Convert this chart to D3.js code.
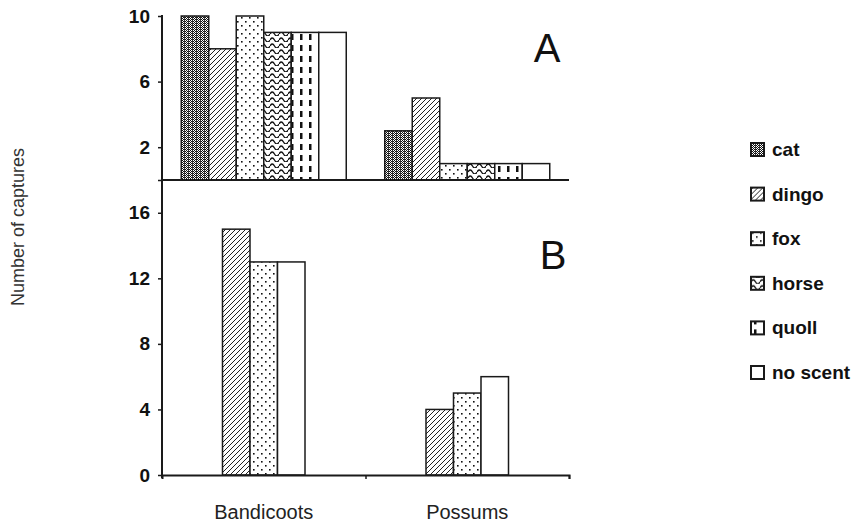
<!DOCTYPE html>
<html>
<head>
<meta charset="utf-8">
<script src="https://cdn.jsdelivr.net/npm/d3@7/dist/d3.min.js"></script>
<style>
  html, body { margin: 0; padding: 0; background: #fff; }
  svg { display: block; }
  text { font-family: "Liberation Sans", Arial, sans-serif; }
</style>
</head>
<body>
<svg id="chart" width="867" height="528"></svg>
<script>
// Captures of bandicoots and possums by scent treatment
const categories = ["Bandicoots", "Possums"];
const series = ["cat", "dingo", "fox", "horse", "quoll", "no scent"];

// Panel A
const valuesA = {
  "cat":      [10, 3],
  "dingo":    [8, 5],
  "fox":      [10, 1],
  "horse":    [9, 1],
  "quoll":    [9, 1],
  "no scent": [9, 1]
};
// Panel B (only dingo, fox and no scent were tested)
const seriesB = ["dingo", "fox", "no scent"];
const valuesB = {
  "dingo":    [15, 4],
  "fox":      [13, 5],
  "no scent": [13, 6]
};

const ticksA = [2, 6, 10];
const ticksB = [0, 4, 8, 12, 16];
const panelLabels = ["A", "B"];
const yTitle = "Number of captures";

const svg = d3.select("#chart");
const defs = svg.append("defs");

// ---- fill patterns ----
function pat(id, w, h) {
  const p = defs.append("pattern").attr("id", id)
    .attr("patternUnits", "userSpaceOnUse").attr("width", w).attr("height", h);
  p.append("rect").attr("width", w).attr("height", h).attr("fill", "#fff");
  return p;
}
// cat: fine checker with dark columns
{
  const p = pat("p-cat", 4, 2);
  p.append("rect").attr("x", 0).attr("y", 0).attr("width", 1).attr("height", 1).attr("fill", "#111");
  p.append("rect").attr("x", 1).attr("y", 1).attr("width", 1).attr("height", 1).attr("fill", "#111");
  p.append("rect").attr("x", 2).attr("y", 0).attr("width", 1).attr("height", 1).attr("fill", "#111");
  p.append("rect").attr("x", 3).attr("y", 1).attr("width", 1).attr("height", 1).attr("fill", "#111");
  p.append("rect").attr("x", 0).attr("y", 0).attr("width", 1).attr("height", 2).attr("fill", "#333");
}
// dingo: diagonal lines
{
  const p = pat("p-dingo", 5, 5);
  p.append("path").attr("d", "M-1,6 L6,-1 M-1,1 L1,-1 M4,6 L6,4")
    .attr("stroke", "#222").attr("stroke-width", 1);
}
// fox: staggered dots
{
  const p = pat("p-fox", 8, 8);
  p.append("rect").attr("x", 1).attr("y", 1).attr("width", 1.6).attr("height", 1.6).attr("fill", "#111");
  p.append("rect").attr("x", 5).attr("y", 5).attr("width", 1.6).attr("height", 1.6).attr("fill", "#111");
}
// horse: wavy lines
{
  const p = pat("p-horse", 9, 6);
  p.append("path").attr("d", "M0,4 Q2.25,0 4.5,4 T9,4")
    .attr("fill", "none").attr("stroke", "#111").attr("stroke-width", 1.3);
}
// quoll: columns of vertical dashes
{
  const p = pat("p-quoll", 9, 11);
  p.append("rect").attr("x", 3).attr("y", 1).attr("width", 2.5).attr("height", 6).attr("fill", "#111");
}
const fills = {
  "cat": "url(#p-cat)", "dingo": "url(#p-dingo)", "fox": "url(#p-fox)",
  "horse": "url(#p-horse)", "quoll": "url(#p-quoll)", "no scent": "#fff"
};

// ---- scales ----
const x = d3.scaleBand().domain(categories).range([162, 569]).padding(0);
const innerA = d3.scaleBand().domain(series).range([-82.5, 82.5]);
const innerB = d3.scaleBand().domain(seriesB).range([-41.25, 41.25]);
const yA = d3.scaleLinear().domain([0, 10]).range([180, 16]);
const yB = d3.scaleLinear().domain([0, 18]).range([475, 180]);

const ink = "#1a1a1a";

// ---- bars ----
function drawBars(keys, vals, inner, y) {
  keys.forEach(s => {
    svg.append("g").selectAll("rect")
      .data(vals[s].map((v, i) => ({ v, c: categories[i] })))
      .join("rect")
      .attr("x", d => x(d.c) + x.bandwidth() / 2 + inner(s))
      .attr("width", inner.bandwidth())
      .attr("y", d => y(d.v))
      .attr("height", d => y(0) - y(d.v))
      .attr("fill", fills[s])
      .attr("stroke", ink).attr("stroke-width", 1.5);
  });
}
drawBars(series, valuesA, innerA, yA);
drawBars(seriesB, valuesB, innerB, yB);

// ---- axes ----
const axisA = svg.append("g").attr("transform", "translate(162,0)")
  .call(d3.axisLeft(yA).tickValues([0, ...ticksA]).tickSize(4).tickPadding(8)
    .tickFormat(d => d === 0 ? "" : d));
const axisB = svg.append("g").attr("transform", "translate(162,0)")
  .call(d3.axisLeft(yB).tickValues(ticksB).tickSize(4).tickPadding(8));
[axisA, axisB].forEach(g => {
  g.select(".domain").remove();
  g.selectAll(".tick line").attr("stroke", ink).attr("stroke-width", 1.5);
  g.selectAll(".tick text").attr("fill", "#111").attr("font-size", 19)
    .attr("font-weight", "bold").style("font-family", "'Liberation Sans', Arial, sans-serif");
});

// vertical axis line spanning both panels
svg.append("line").attr("x1", 162).attr("x2", 162).attr("y1", 15).attr("y2", 478)
  .attr("stroke", ink).attr("stroke-width", 2);
// baselines
svg.append("line").attr("x1", 162).attr("x2", 569).attr("y1", yA(0)).attr("y2", yA(0))
  .attr("stroke", ink).attr("stroke-width", 2);
const xAxis = svg.append("g").attr("transform", `translate(0,${yB(0)})`)
  .call(d3.axisBottom(d3.scaleLinear().domain([0, 2]).range([162, 569]))
    .tickValues([1, 2]).tickSize(4).tickFormat(""));
xAxis.select(".domain").attr("stroke", ink).attr("stroke-width", 2);
xAxis.selectAll(".tick line").attr("stroke", ink).attr("stroke-width", 1.5);

// category labels
svg.append("g").selectAll("text").data(categories).join("text")
  .attr("x", d => x(d) + x.bandwidth() / 2).attr("y", 519)
  .attr("text-anchor", "middle").attr("font-size", 20).attr("fill", "#222")
  .text(d => d);

// panel letters
svg.append("text").attr("x", 547).attr("y", 62).attr("text-anchor", "middle")
  .attr("font-size", 40).attr("fill", "#111").text(panelLabels[0]);
svg.append("text").attr("x", 553).attr("y", 269).attr("text-anchor", "middle")
  .attr("font-size", 40).attr("fill", "#111").text(panelLabels[1]);

// y title
svg.append("text").attr("transform", "translate(24,227) rotate(-90)")
  .attr("text-anchor", "middle").attr("font-size", 18).attr("fill", "#333")
  .text(yTitle);

// legend
const legend = svg.append("g").selectAll("g").data(series).join("g")
  .attr("transform", (d, i) => `translate(751,${150 + i * 44.6})`);
legend.append("rect").attr("x", 0).attr("y", -7).attr("width", 13).attr("height", 13)
  .attr("fill", d => fills[d]).attr("stroke", ink).attr("stroke-width", 2);
legend.append("text").attr("x", 21).attr("y", 6).attr("font-size", 19)
  .attr("font-weight", "bold").attr("fill", "#111").text(d => d);
</script>
</body>
</html>
